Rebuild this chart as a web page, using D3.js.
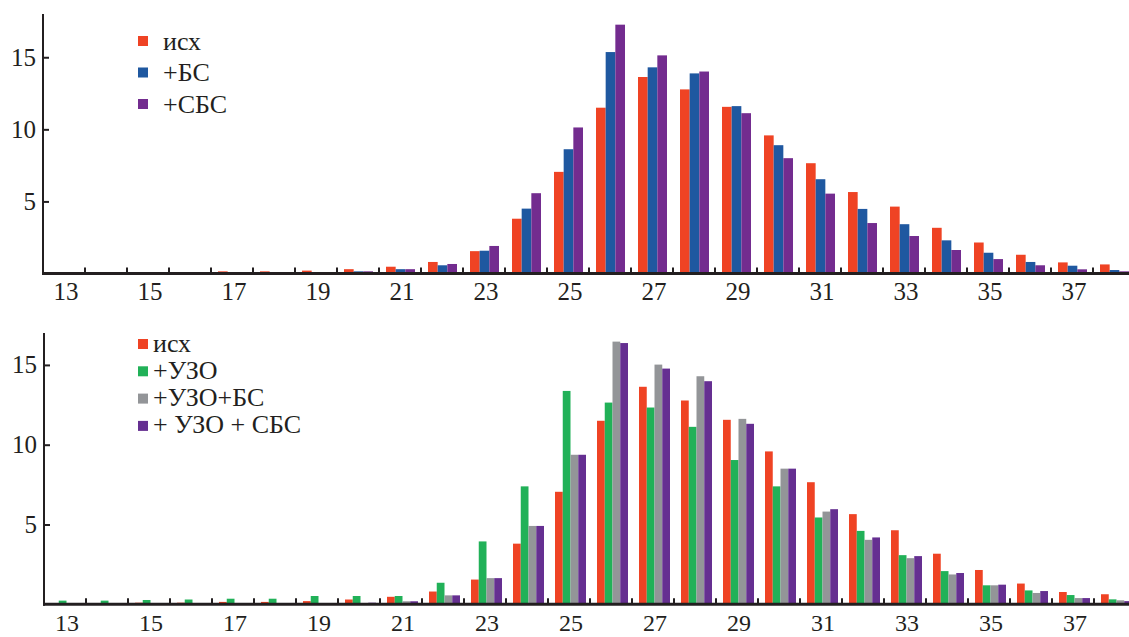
<!DOCTYPE html>
<html><head><meta charset="utf-8">
<script src="https://cdn.jsdelivr.net/npm/d3@7/dist/d3.min.js"></script>
<style>
body{margin:0;background:#fff}
svg{display:block}
</style>
</head><body>
<svg id="chart" width="1129" height="637"></svg>
<script>
const categories = [13,14,15,16,17,18,19,20,21,22,23,24,25,26,27,28,29,30,31,32,33,34,35,36,37,38];
const xTickLabels = [13,15,17,19,21,23,25,27,29,31,33,35,37];
const yTickValues = [5,10,15];

const isx   = [0.08,0.08,0.1,0.1,0.15,0.15,0.2,0.3,0.47,0.8,1.55,3.8,7.05,11.5,13.63,12.77,11.56,9.58,7.65,5.65,4.64,3.17,2.15,1.3,0.77,0.63];
const bs    = [0,0,0,0,0,0.05,0.1,0.15,0.3,0.57,1.58,4.5,8.62,15.36,14.3,13.88,11.61,8.9,6.54,4.48,3.42,2.3,1.44,0.8,0.54,0.24];
const sbs   = [0,0,0,0,0,0.1,0.1,0.15,0.3,0.66,1.91,5.57,10.13,17.26,15.13,14.01,11.12,8.0,5.54,3.5,2.6,1.63,1.0,0.57,0.29,0.15];
const uzo   = [0.23,0.23,0.27,0.3,0.35,0.35,0.52,0.52,0.52,1.35,3.94,7.39,13.37,12.64,12.33,11.12,9.04,7.39,5.44,4.6,3.08,2.08,1.19,0.87,0.58,0.31];
const uzoBs = [0,0,0,0,0,0,0.03,0.08,0.19,0.56,1.64,4.91,9.37,16.46,15.02,14.29,11.62,8.5,5.81,4.04,2.89,1.87,1.19,0.71,0.39,0.25];
const uzoSbs= [0,0,0,0,0,0,0.05,0.1,0.19,0.56,1.64,4.91,9.37,16.37,14.77,13.98,11.31,8.5,5.96,4.19,3.02,1.96,1.23,0.83,0.39,0.2];

const topSeries = [
  {name:"исх", values:isx, color:"#EF4324"},
  {name:"+БС", values:bs, color:"#1F58A0"},
  {name:"+СБС", values:sbs, color:"#732C8F"}
];
const bottomSeries = [
  {name:"исх", values:isx, color:"#EF4324"},
  {name:"+УЗО", values:uzo, color:"#21B158"},
  {name:"+УЗО+БС", values:uzoBs, color:"#939598"},
  {name:"+ УЗО + СБС", values:uzoSbs, color:"#652F91"}
];

const FONT = "'Liberation Serif','Times New Roman',Times,serif";
const svg = d3.select("#chart").style("font-family", FONT);
const ink = "#231f20";

function panel(cfg){
  const g = svg.append("g");
  const x = d3.scaleBand().domain(categories).range([cfg.x0, cfg.x0 + 42*categories.length]).padding(0);
  const y = d3.scaleLinear().domain([0, cfg.yMax]).range([cfg.base, cfg.top]);
  const inner = d3.scaleBand().domain(cfg.series.map(s=>s.name)).range([7, 7 + cfg.groupW]).padding(0);

  cfg.series.forEach(s=>{
    g.append("g").selectAll("rect").data(categories.map((c,i)=>({c, v:s.values[i]})))
      .join("rect")
      .attr("x", d=>x(d.c)+inner(s.name))
      .attr("width", inner.bandwidth())
      .attr("y", d=>y(d.v))
      .attr("height", d=>Math.max(0, y(0)-y(d.v)))
      .attr("fill", s.color);
  });

  g.append("line").attr("x1", cfg.x0-1).attr("x2", 1129).attr("y1", y(0)).attr("y2", y(0))
    .attr("stroke", ink).attr("stroke-width", 3);
  g.append("g").selectAll("line").data(categories.slice(1))
    .join("line")
    .attr("x1", d=>x(d)).attr("x2", d=>x(d))
    .attr("y1", y(0)).attr("y2", y(0)-6)
    .attr("stroke", ink).attr("stroke-width", 2);
  g.append("g").selectAll("text").data(xTickLabels)
    .join("text")
    .attr("x", d=>x(d)+x.bandwidth()/2+2)
    .attr("y", cfg.labelBase)
    .attr("text-anchor","middle")
    .attr("font-family", FONT)
    .attr("font-size", cfg.xFont)
    .attr("fill", ink)
    .text(d=>d);

  const yAxis = d3.axisLeft(y).tickValues(yTickValues).tickSizeInner(-6).tickSizeOuter(0).tickPadding(7);
  const ya = g.append("g").attr("transform", `translate(${cfg.x0},0)`).call(yAxis)
    .attr("font-family", FONT).attr("font-size", 25);
  ya.select(".domain").remove();
  ya.selectAll(".tick line").attr("stroke", ink).attr("stroke-width", 2);
  ya.selectAll(".tick text").attr("fill", ink);
  g.append("line").attr("x1", cfg.x0).attr("x2", cfg.x0).attr("y1", cfg.top).attr("y2", y(0)+1.5)
    .attr("stroke", ink).attr("stroke-width", 2);

  const lg = g.append("g");
  cfg.series.forEach((s,i)=>{
    const cy = cfg.legY + i*cfg.legStep;
    lg.append("rect").attr("x", 138).attr("y", cy-5).attr("width", 10).attr("height", 10).attr("fill", s.color);
    lg.append("text").attr("x", cfg.legTextX).attr("y", cy + cfg.legDy)
      .attr("font-family", FONT).attr("font-size", cfg.legFont).attr("fill", ink).text(s.name);
  });
}

panel({series: topSeries, x0:43, base:273.5, top:14, yMax:18, groupW:29, labelBase:300, xFont:25,
       legY:41, legStep:31.5, legTextX:163, legDy:8.5, legFont:26});
panel({series: bottomSeries, x0:44, base:604.3, top:333, yMax:17, groupW:31, labelBase:631, xFont:24,
       legY:344, legStep:27.3, legTextX:153, legDy:7.5, legFont:26});
</script>
</body></html>
